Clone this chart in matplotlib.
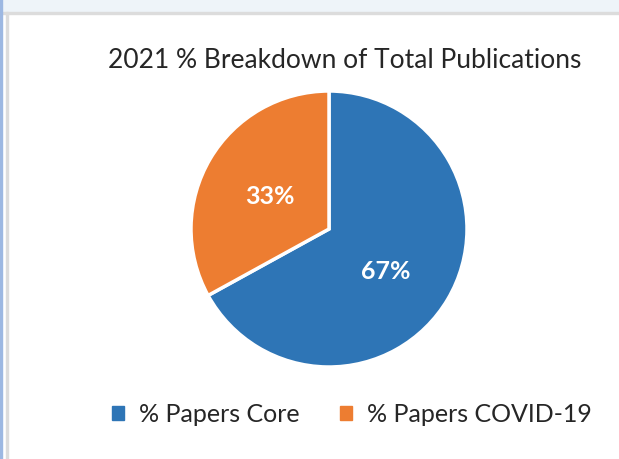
import matplotlib.pyplot as plt
from matplotlib.patches import Rectangle

plt.rcParams['font.family'] = ['Lato', 'DejaVu Sans']

title = "2021 % Breakdown of Total Publications"
labels = ["% Papers Core", "% Papers COVID-19"]
values = [67, 33]
colors = ["#2E75B6", "#ED7D31"]

W, H = 619, 460
fig = plt.figure(figsize=(W / 100, H / 100), dpi=100)

# screenshot frame bits (top band, left strip)
fig.patches.append(Rectangle((0, 1 - 13 / H), 1, 13 / H, transform=fig.transFigure,
                             color="#EEF4F9", zorder=0))
fig.patches.append(Rectangle((0, 1 - 15 / H), 1, 2 / H, transform=fig.transFigure,
                             color="#DCDCDC", zorder=0))
fig.patches.append(Rectangle((0, 0), 2 / W, 1, transform=fig.transFigure,
                             color="#9DB8E2", zorder=0))
fig.patches.append(Rectangle((6 / W, 0), 2 / W, 1 - 13 / H, transform=fig.transFigure,
                             color="#DCDCDC", zorder=0))

# pie axes: center (329, 230), radius ~137 px
r = 138
cx, cy = 329, 230
ax = fig.add_axes([(cx - r) / W, 1 - (cy + r) / H, 2 * r / W, 2 * r / H])
wedges, _ = ax.pie(values, colors=colors, startangle=90, counterclock=False,
                   radius=1.0, wedgeprops=dict(edgecolor="white", linewidth=2.5))
ax.set_xlim(-1, 1)
ax.set_ylim(-1, 1)
ax.set_aspect("equal")

ax.text(0.41, -0.30, f"{values[0]}%", color="white", fontsize=18, fontweight="bold",
        ha="center", va="center")
ax.text(-0.43, 0.24, f"{values[1]}%", color="white", fontsize=18, fontweight="bold",
        ha="center", va="center")

fig.text(345 / W, 1 - 60 / H, title, fontsize=19, color="#262626",
         ha="center", va="center")

handles = [Rectangle((0, 0), 1, 1, color=c) for c in colors]
fig.legend(handles, labels, loc="center", bbox_to_anchor=(352 / W, 1 - 415 / H),
           ncol=2, frameon=False, fontsize=18, handlelength=0.5, handleheight=0.5,
           handletextpad=0.6, columnspacing=1.6, labelcolor="#262626")

fig.savefig("out.png", dpi=100)
